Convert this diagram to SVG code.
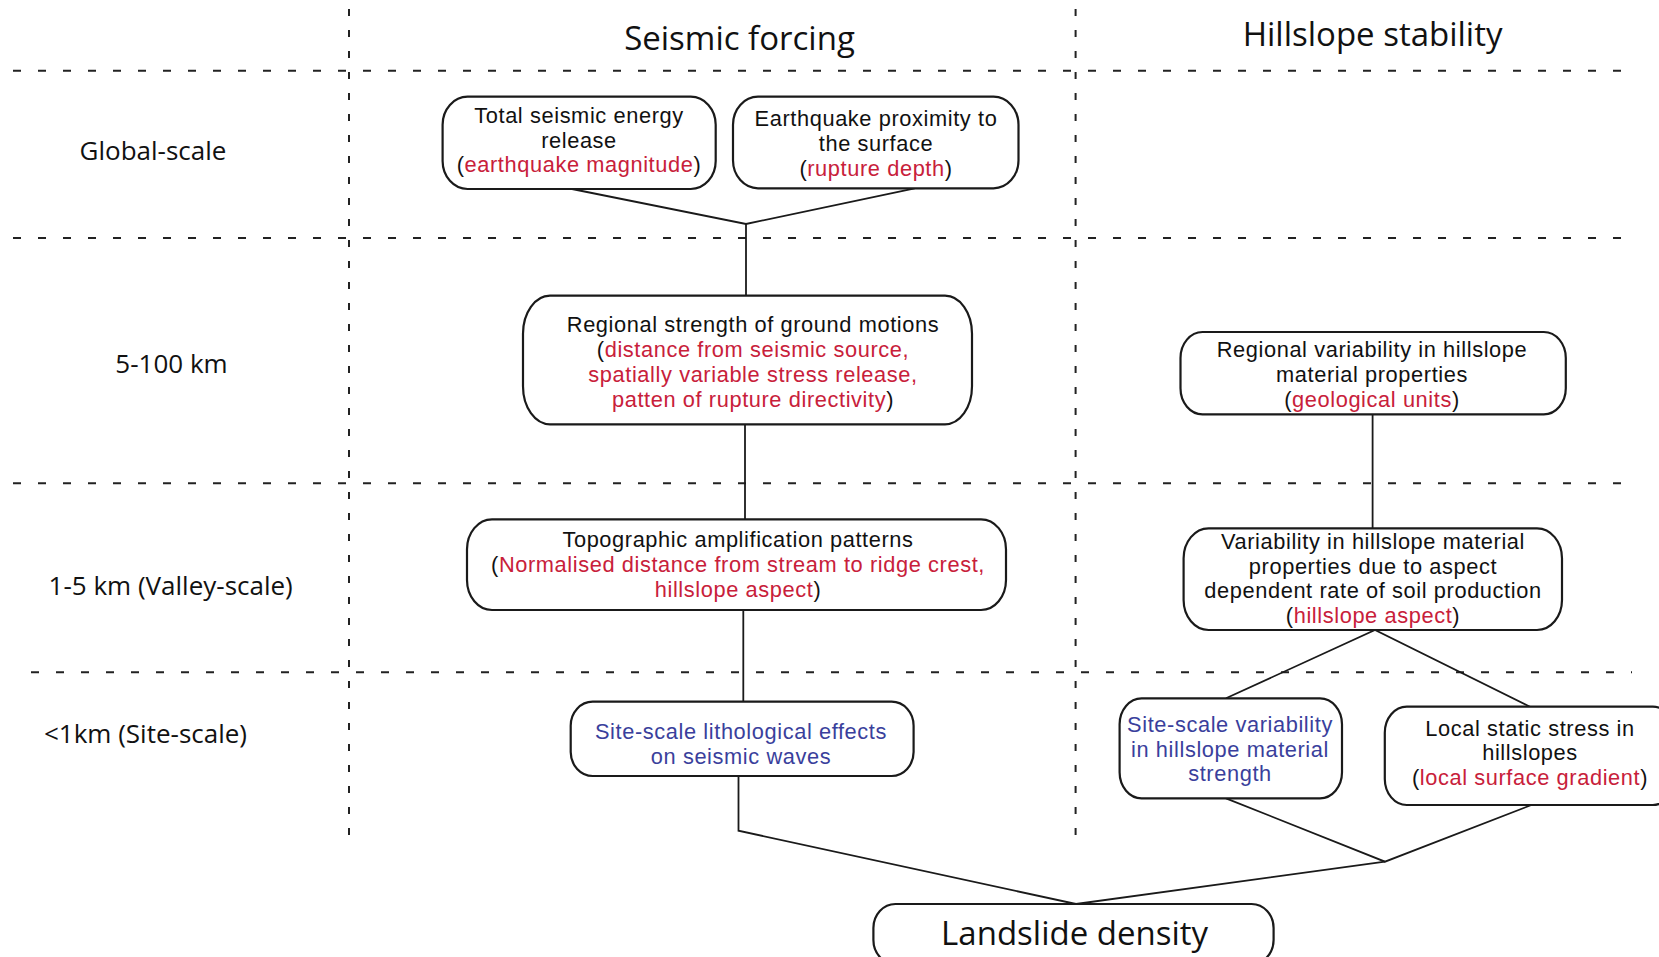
<svg xmlns="http://www.w3.org/2000/svg" width="1659" height="957" viewBox="0 0 1659 957">
<style>
  .bg{fill:#ffffff}
  .grid{stroke:#222;stroke-width:2;fill:none}
  .h{stroke-dasharray:8 17}
  .v{stroke-dasharray:7 14}
  .box{fill:#ffffff;stroke:#1a1a1a;stroke-width:2.2}
  .con{stroke:#1a1a1a;stroke-width:1.8;fill:none}
  text{font-family:"Open Sans","Liberation Sans",sans-serif;fill:#111;text-anchor:middle}
  .t{font-family:"Liberation Sans",Arial,sans-serif;font-size:21.8px;letter-spacing:0.6px}
  .title{font-size:33px}
  .row{font-size:26px}
  .big{font-size:33px}
  .r{fill:#c8203a}
  .b{fill:#3a3f9c}
</style>
<rect class="bg" x="0" y="0" width="1659" height="957"/>
<g id="grid">
  <line class="grid h" x1="13" y1="70.7" x2="1632" y2="70.7"/>
  <line class="grid h" x1="13" y1="238" x2="1632" y2="238"/>
  <line class="grid h" x1="13" y1="483.3" x2="1632" y2="483.3"/>
  <line class="grid h" x1="31" y1="672.3" x2="1632" y2="672.3"/>
  <line class="grid v" x1="349" y1="9" x2="349" y2="845"/>
  <line class="grid v" x1="1075.6" y1="9" x2="1075.6" y2="845"/>
</g>
<g id="labels">
  <text class="title" x="739.5" y="50">Seismic forcing</text>
  <text class="title" x="1372.6" y="46">Hillslope stability</text>
  <text class="row" x="153" y="160">Global-scale</text>
  <text class="row" x="171.5" y="373">5-100 km</text>
  <text class="row" x="170.7" y="595">1-5 km (Valley-scale)</text>
  <text class="row" x="145.5" y="743">&lt;1km (Site-scale)</text>
</g>
<g id="connectors">
  <polyline class="con" points="572,189 746,224 914.7,188.3"/>
  <line class="con" x1="746" y1="224" x2="746" y2="295.7"/>
  <line class="con" x1="745" y1="424.3" x2="745" y2="519.3"/>
  <line class="con" x1="743.3" y1="610" x2="743.3" y2="701.7"/>
  <polyline class="con" points="738.5,776 738.5,830.7 1076,904 1385,861.7"/>
  <line class="con" x1="1372.6" y1="414.3" x2="1372.6" y2="528.3"/>
  <polyline class="con" points="1226,698.3 1375,630 1530,706.7"/>
  <polyline class="con" points="1226,798.3 1385,861.7 1531.4,805"/>
</g>
<g id="n1">
  <rect class="box" x="442.6" y="96.7" width="273.1" height="92.3" rx="25" ry="28"/>
  <text class="t" x="579" y="123">Total seismic energy</text>
  <text class="t" x="579" y="147.5">release</text>
  <text class="t" x="579" y="172">(<tspan class="r">earthquake magnitude</tspan>)</text>
</g>
<g id="n2">
  <rect class="box" x="733" y="96.7" width="285.5" height="91.6" rx="25" ry="28"/>
  <text class="t" x="876" y="126">Earthquake proximity to</text>
  <text class="t" x="876" y="151">the surface</text>
  <text class="t" x="876" y="176">(<tspan class="r">rupture depth</tspan>)</text>
</g>
<g id="n3">
  <rect class="box" x="523" y="295.7" width="449" height="128.6" rx="27" ry="38"/>
  <text class="t" x="753" y="332">Regional strength of ground motions</text>
  <text class="t" x="753" y="357">(<tspan class="r">distance from seismic source,</tspan></text>
  <text class="t r" x="753" y="382">spatially variable stress release,</text>
  <text class="t" x="753" y="407"><tspan class="r">patten of rupture directivity</tspan>)</text>
</g>
<g id="n4">
  <rect class="box" x="1180.5" y="332" width="385.3" height="82.3" rx="22" ry="26"/>
  <text class="t" x="1372" y="357">Regional variability in hillslope</text>
  <text class="t" x="1372" y="382">material properties</text>
  <text class="t" x="1372" y="407">(<tspan class="r">geological units</tspan>)</text>
</g>
<g id="n5">
  <rect class="box" x="467" y="519.3" width="539" height="90.7" rx="25" ry="30"/>
  <text class="t" x="738" y="546.5">Topographic amplification patterns</text>
  <text class="t" x="738" y="572">(<tspan class="r">Normalised distance from stream to ridge crest,</tspan></text>
  <text class="t" x="738" y="597"><tspan class="r">hillslope aspect</tspan>)</text>
</g>
<g id="n6">
  <rect class="box" x="1183.6" y="528.3" width="378.4" height="101.7" rx="25" ry="30"/>
  <text class="t" x="1373" y="549">Variability in hillslope material</text>
  <text class="t" x="1373" y="573.5">properties due to aspect</text>
  <text class="t" x="1373" y="598">dependent rate of soil production</text>
  <text class="t" x="1373" y="623">(<tspan class="r">hillslope aspect</tspan>)</text>
</g>
<g id="n7">
  <rect class="box" x="570.7" y="701.7" width="342.9" height="74.3" rx="22" ry="24"/>
  <text class="t b" x="741" y="739">Site-scale lithological effects</text>
  <text class="t b" x="741" y="764">on seismic waves</text>
</g>
<g id="n8">
  <rect class="box" x="1119.6" y="698.3" width="222.4" height="100" rx="22" ry="26"/>
  <text class="t b" x="1230" y="732">Site-scale variability</text>
  <text class="t b" x="1230" y="756.5">in hillslope material</text>
  <text class="t b" x="1230" y="781">strength</text>
</g>
<g id="n9">
  <rect class="box" x="1384.8" y="706.7" width="290" height="98.3" rx="22" ry="26"/>
  <text class="t" x="1530" y="735.5">Local static stress in</text>
  <text class="t" x="1530" y="760">hillslopes</text>
  <text class="t" x="1530" y="784.5">(<tspan class="r">local surface gradient</tspan>)</text>
</g>
<g id="n10">
  <rect class="box" x="873.4" y="904" width="400.2" height="60" rx="22" ry="24"/>
  <text class="big" x="1074.6" y="945">Landslide density</text>
</g>
</svg>
